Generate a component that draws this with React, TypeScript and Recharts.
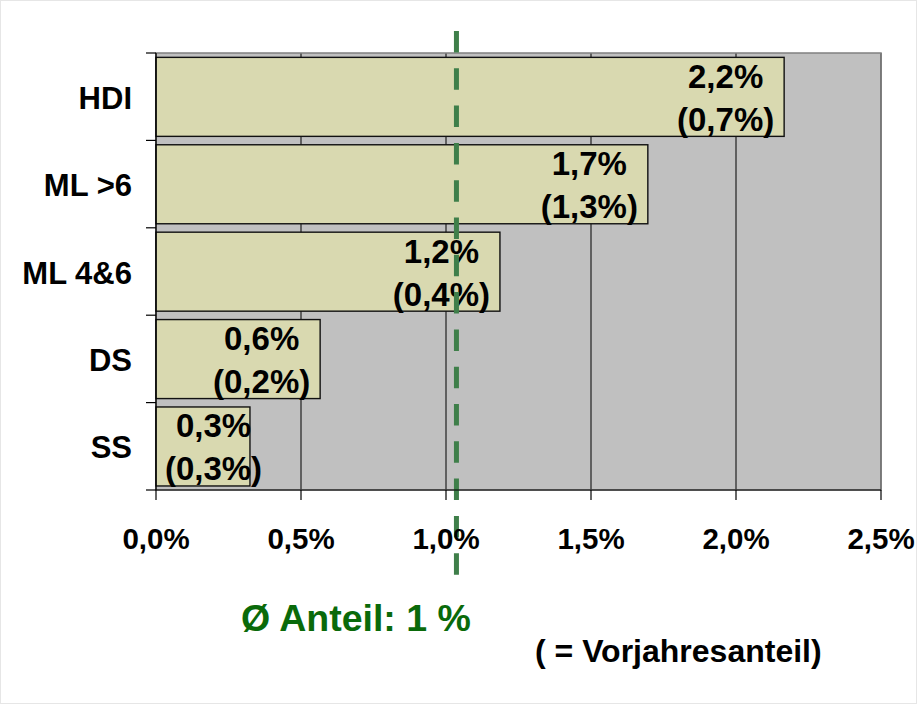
import React from "react";
import {
  BarChart,
  Bar,
  XAxis,
  YAxis,
  CartesianGrid,
  ReferenceLine,
  ReferenceArea,
} from "recharts";

const categories = ["HDI", "ML >6", "ML 4&6", "DS", "SS"];
const shares = [2.166, 1.696, 1.186, 0.566, 0.324];
const previousShares = [0.7, 1.3, 0.4, 0.2, 0.3];
const xTicks = [0, 0.5, 1, 1.5, 2, 2.5];
const averageShare = 1.036;

const data = categories.map((name, i) => ({
  name,
  share: shares[i],
  prev: previousShares[i],
}));

const FONT = "'Liberation Sans', Arial, sans-serif";
const PLOT_LEFT = 156;
const PLOT_TOP = 53;
const PLOT_BOTTOM = 490;
const BAND = (PLOT_BOTTOM - PLOT_TOP) / categories.length;

const pct = (v: number) => v.toFixed(1).replace(".", ",") + "%";

const YTick = (props: any) => {
  const { y, index } = props;
  return (
    <g>
      <line x1={PLOT_LEFT - 10} x2={PLOT_LEFT} y1={y - BAND / 2} y2={y - BAND / 2} stroke="#000" strokeWidth={1.2} />
      {index === categories.length - 1 && (
        <line x1={PLOT_LEFT - 10} x2={PLOT_LEFT} y1={y + BAND / 2} y2={y + BAND / 2} stroke="#000" strokeWidth={1.2} />
      )}
      <text x={PLOT_LEFT - 24} y={y + 12} textAnchor="end" fontFamily={FONT} fontWeight="bold" fontSize={31} fill="#000">
        {props.payload.value}
      </text>
    </g>
  );
};

const XTick = (props: any) => {
  const { x, payload } = props;
  return (
    <text x={x} y={PLOT_BOTTOM + 59} textAnchor="middle" fontFamily={FONT} fontWeight="bold" fontSize={29.5} fill="#000">
      {pct(payload.value)}
    </text>
  );
};

const BarShape = (props: any) => {
  const { x, y, width, height, payload } = props;
  const cy = y + height / 2;
  const cx = Math.max(x + 57.5, x + width - 58.5);
  return (
    <g>
      <rect x={x} y={y} width={width} height={height} fill="#d9d9b0" stroke="#111" strokeWidth={1.4} />
      <text x={cx} y={cy - 9} textAnchor="middle" fontFamily={FONT} fontWeight="bold" fontSize={33} fill="#000">
        {pct(payload.share)}
      </text>
      <text x={cx} y={cy + 34} textAnchor="middle" fontFamily={FONT} fontWeight="bold" fontSize={33} fill="#000">
        ({pct(payload.prev)})
      </text>
    </g>
  );
};

const AverageLine = (props: any) => {
  const { x1, x2, y1, y2 } = props;
  return (
    <line
      x1={x1}
      x2={x2}
      y1={Math.min(y1, y2) - 22}
      y2={Math.max(y1, y2) + 85}
      stroke="#3f7f4a"
      strokeWidth={5}
      strokeDasharray="21.5 15.8"
    />
  );
};

export default function App() {
  return (
    <div style={{ position: "absolute", left: 0, top: 0, width: 917, height: 704, background: "#fff" }}>
      <BarChart
        width={917}
        height={704}
        data={data}
        layout="vertical"
        barCategoryGap="5%"
        margin={{ top: PLOT_TOP, right: 36, bottom: 154, left: 10 }}
      >
        <CartesianGrid horizontal={false} stroke="#000" strokeWidth={1} fill="#c0c0c0" fillOpacity={1} />
        <ReferenceArea x1={0} x2={2.5} fill="none" stroke="#808080" strokeWidth={1.5} />
        <XAxis
          type="number"
          domain={[0, 2.5]}
          ticks={xTicks}
          height={60}
          axisLine={{ stroke: "#000", strokeWidth: 1.2 }}
          tickLine={{ stroke: "#000", strokeWidth: 1.2 }}
          tickSize={10}
          tick={<XTick />}
          interval={0}
        />
        <YAxis
          type="category"
          dataKey="name"
          width={146}
          axisLine={{ stroke: "#000", strokeWidth: 1.2 }}
          tickLine={false}
          tick={<YTick />}
          interval={0}
        />
        <Bar dataKey="share" isAnimationActive={false} shape={<BarShape />} />
        <ReferenceLine x={averageShare} shape={<AverageLine />} />
      </BarChart>
      <svg
        width={917}
        height={704}
        style={{ position: "absolute", left: 0, top: 0, pointerEvents: "none" }}
      >
        <rect x={0.5} y={0.5} width={916} height={703} fill="none" stroke="#e6e6e6" />
        <text x={241} y={631} fontFamily={FONT} fontWeight="bold" fontSize={37.5} fill="#0a6a0a">
          Ø Anteil: 1 %
        </text>
        <text x={535} y={662} fontFamily={FONT} fontWeight="bold" fontSize={32} fill="#000">
          ( = Vorjahresanteil)
        </text>
      </svg>
    </div>
  );
}
